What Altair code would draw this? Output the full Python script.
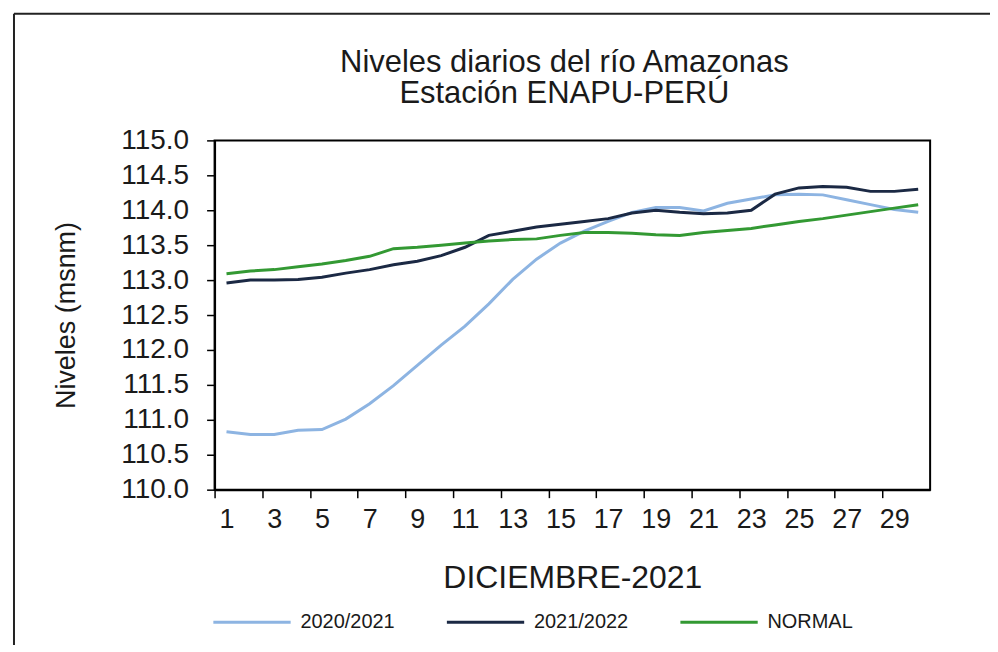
import altair as alt
import pandas as pd

# ---- data ----
days = list(range(1, 31))
serie_2020_2021 = [110.83, 110.79, 110.79, 110.85, 110.86, 111.01, 111.23, 111.49, 111.78, 112.07,
                   112.34, 112.66, 113.01, 113.30, 113.53, 113.70, 113.84, 113.97, 114.04, 114.04,
                   113.99, 114.10, 114.16, 114.22, 114.23, 114.22, 114.15, 114.08, 114.01, 113.97]
serie_2021_2022 = [112.96, 113.00, 113.00, 113.01, 113.04, 113.10, 113.15, 113.22, 113.27, 113.35,
                   113.47, 113.64, 113.70, 113.76, 113.80, 113.84, 113.88, 113.96, 114.00, 113.97,
                   113.95, 113.96, 114.00, 114.23, 114.32, 114.34, 114.33, 114.27, 114.27, 114.30]
serie_normal = [113.09, 113.13, 113.15, 113.19, 113.23, 113.28, 113.34, 113.45, 113.47, 113.50,
                113.53, 113.56, 113.58, 113.59, 113.64, 113.68, 113.68, 113.67, 113.65, 113.64,
                113.68, 113.71, 113.74, 113.79, 113.84, 113.88, 113.93, 113.98, 114.03, 114.08]
series_names = ["2020/2021", "2021/2022", "NORMAL"]
series_colors = ["#8db4e2", "#1b2944", "#339933"]
x_tick_labels = list(range(1, 30, 2))
y_ticks = [110.0, 110.5, 111.0, 111.5, 112.0, 112.5, 113.0, 113.5, 114.0, 114.5, 115.0]
title_lines = ["Niveles  diarios del río Amazonas", "Estación ENAPU-PERÚ"]

rows = []
for name, vals in zip(series_names, [serie_2020_2021, serie_2021_2022, serie_normal]):
    for d, v in zip(days, vals):
        rows.append({"dia": d, "nivel": v, "serie": name})
df = pd.DataFrame(rows)

FONT = "Liberation Sans"
TXT = "#1a1a1a"
W, H = 717, 350
step = W / len(days)

lines = alt.Chart(df).mark_line(strokeWidth=3).encode(
    x=alt.X(
        "dia:O",
        sort=days,
        scale=alt.Scale(type="point", padding=0.5),
        axis=alt.Axis(
            values=x_tick_labels,
            labelAngle=0,
            labelFontSize=27,
            tickOffset=-step / 2,
            labelOffset=step / 2,
            title="DICIEMBRE-2021",
            titleFontSize=32,
            titleY=98,
            titleBaseline="alphabetic",
            labelPadding=9,
        ),
    ),
    y=alt.Y(
        "nivel:Q",
        scale=alt.Scale(domain=[110, 115], nice=False, zero=False),
        axis=alt.Axis(
            values=y_ticks,
            format=".1f",
            labelFontSize=28,
            title="Niveles  (msnm)",
            titleFontSize=27,
            titleX=-148,
            titleY=H / 2,
            titleAlign="center",
            titleBaseline="middle",
            labelPadding=18,
        ),
    ),
    color=alt.Color(
        "serie:N",
        scale=alt.Scale(domain=series_names, range=series_colors),
        legend=alt.Legend(
            title=None,
            orient="none",
            direction="horizontal",
            legendX=-3,
            legendY=442,
            symbolType="stroke",
            symbolSize=6000,
            symbolStrokeWidth=3,
            labelFontSize=20,
            labelFont=FONT,
            labelColor=TXT,
            labelOffset=8,
            columnPadding=45,
        ),
    ),
)

frame_df = pd.DataFrame({"k": [0]})
frame_v = alt.Chart(frame_df).mark_rule(color="#222222", strokeWidth=2).encode(
    x=alt.value(-201), y=alt.value(-127), y2=alt.value(510)
)
frame_h = alt.Chart(frame_df).mark_rule(color="#222222", strokeWidth=2).encode(
    x=alt.value(-201), x2=alt.value(790), y=alt.value(-127)
)
title_mark = alt.Chart(frame_df).mark_text(
    text=title_lines,
    font=FONT,
    fontSize=31,
    lineHeight=32,
    color=TXT,
    align="center",
    baseline="alphabetic",
).encode(x=alt.value(W / 2 - 8), y=alt.value(-69))

chart = (
    alt.layer(frame_v, frame_h, title_mark, lines)
    .properties(
        width=W,
        height=H,
        padding={"left": 207, "top": 132, "right": 60, "bottom": 155},
        autosize=alt.AutoSizeParams(type="none"),
    )
    .configure(background="white")
    .configure_view(stroke="black", strokeWidth=2)
    .configure_axis(
        labelFont=FONT,
        titleFont=FONT,
        labelColor=TXT,
        titleColor=TXT,
        titleFontWeight="normal",
        domainColor="black",
        domainWidth=2,
        tickColor="black",
        tickWidth=1.5,
        tickSize=8,
        grid=False,
    )
)

chart.save("out.html", embed_options={"renderer": "svg", "actions": False})
